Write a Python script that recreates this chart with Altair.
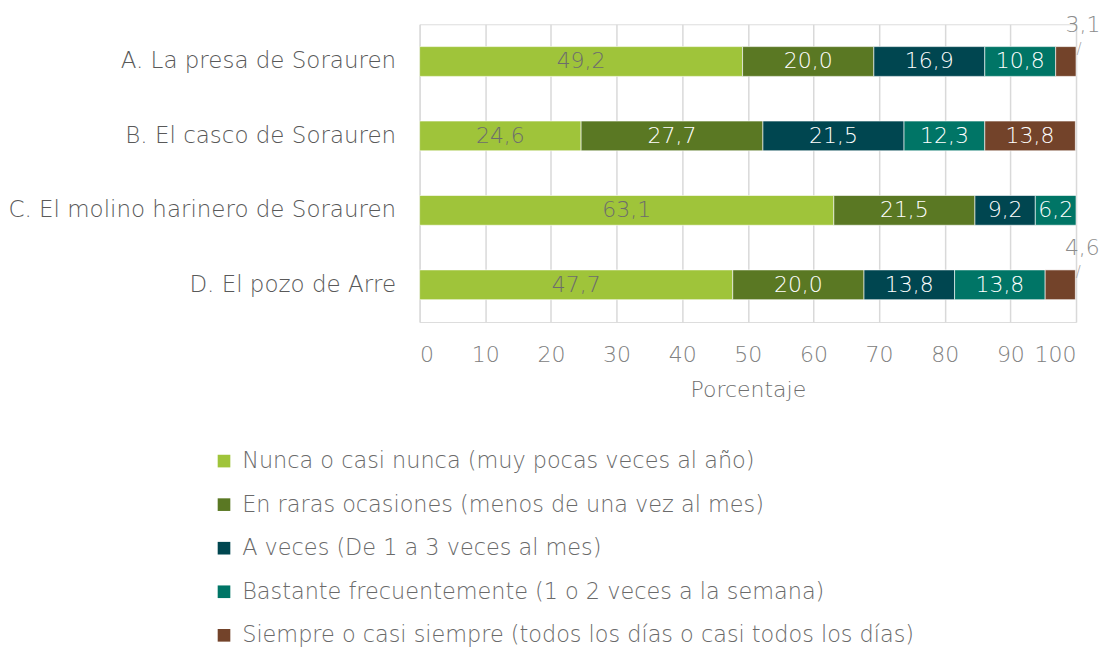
import altair as alt
import pandas as pd

categories = [
    "A. La presa de Sorauren",
    "B. El casco de Sorauren",
    "C. El molino harinero de Sorauren",
    "D. El pozo de Arre",
]
series = [
    "Nunca o casi nunca (muy pocas veces al año)",
    "En raras ocasiones (menos de una vez al mes)",
    "A veces (De 1 a 3 veces al mes)",
    "Bastante frecuentemente (1 o 2 veces a la semana)",
    "Siempre o casi siempre (todos los días o casi todos los días)",
]
colors = ["#9fc43a", "#5a7823", "#004650", "#007566", "#73432a"]

val_nunca = [49.2, 24.6, 63.1, 47.7]
val_raras = [20.0, 27.7, 21.5, 20.0]
val_aveces = [16.9, 21.5, 9.2, 13.8]
val_bastante = [10.8, 12.3, 6.2, 13.8]
val_siempre = [3.1, 13.8, 0.0, 4.6]
x_ticks = [0, 10, 20, 30, 40, 50, 60, 70, 80, 90, 100]

all_vals = [val_nunca, val_raras, val_aveces, val_bastante, val_siempre]
rows = []
for ci, cat in enumerate(categories):
    start = 0.0
    for si, s in enumerate(series):
        v = all_vals[si][ci]
        if v > 0:
            rows.append({
                "cat": cat, "serie": s, "order": si, "value": v,
                "start": start, "end": start + v, "mid": start + v / 2,
                "label": f"{v:.1f}".replace(".", ","),
                "first": si == 0,
                "small": v < 5,
            })
        start += v
df = pd.DataFrame(rows)

FONT = "DejaVu Sans"
FW = 300
FS = 22
W, H = 657, 298

y_enc = alt.Y("cat:N", sort=categories, title=None,
              scale=alt.Scale(paddingInner=0.6, paddingOuter=0.3),
              axis=alt.Axis(labelFontSize=23, labelColor="#595959", labelFont=FONT,
                            labelFontWeight=FW,
                            ticks=False, tickSize=0, domain=False, labelPadding=24,
                            labelLimit=500, grid=False))
x_scale = alt.Scale(domain=[0, 100], nice=False)

bars = alt.Chart(df).mark_bar(stroke="white", strokeWidth=0.6).encode(
    x=alt.X("start:Q", scale=x_scale, title="Porcentaje",
            axis=alt.Axis(values=x_ticks, labelFontSize=FS, labelColor="#808080",
                          labelFont=FONT, labelFontWeight=FW, titleFont=FONT,
                          titleFontSize=FS, titleColor="#6f6f6f", titleFontWeight=FW,
                          ticks=False, tickSize=0, domain=False, labelPadding=23,
                          titlePadding=14, grid=True, gridColor="#d9d9d9",
                          gridWidth=1.5)),
    x2="end:Q",
    y=y_enc,
    color=alt.Color("serie:N", sort=series,
                    scale=alt.Scale(domain=series, range=colors),
                    legend=alt.Legend(title=None, orient="none", legendX=-207,
                                      legendY=426, direction="vertical",
                                      symbolType="square", symbolSize=160,
                                      symbolStrokeWidth=0, labelFontSize=22.4,
                                      labelFont=FONT, labelFontWeight=FW,
                                      labelColor="#6a6a6a",
                                      labelOffset=7, rowPadding=20.6, padding=0,
                                      labelLimit=900)),
    order=alt.Order("order:Q"),
)

inside = df[~df["small"]]
txt_in = alt.Chart(inside).mark_text(fontSize=FS, font=FONT, fontWeight=FW,
                                     baseline="middle").encode(
    x=alt.X("mid:Q", scale=x_scale),
    y=alt.Y("cat:N", sort=categories),
    text="label:N",
    color=alt.condition("datum.first", alt.value("#6d6d6d"), alt.value("white")),
)

outside = df[df["small"]]
txt_out = alt.Chart(outside).mark_text(fontSize=FS, font=FONT, fontWeight=FW,
                                       baseline="middle",
                                       color="#8c8c8c", dx=7, dy=-37).encode(
    x=alt.X("end:Q", scale=x_scale),
    y=alt.Y("cat:N", sort=categories),
    text="label:N",
)
leader = alt.Chart(outside).mark_text(fontSize=15, font=FONT, fontWeight=FW,
                                      baseline="middle",
                                      color="#a6a6a6", dx=3, dy=-13, text="/").encode(
    x=alt.X("end:Q", scale=x_scale),
    y=alt.Y("cat:N", sort=categories),
)

chart = alt.layer(bars, txt_in, txt_out, leader).properties(
    width=W, height=H,
    autosize=alt.AutoSizeParams(type="none"),
    padding={"left": 412, "top": 16, "right": 24, "bottom": 326},
).configure_view(stroke=None).configure(font=FONT)

chart.save("out.html", embed_options={"renderer": "svg", "actions": False})
